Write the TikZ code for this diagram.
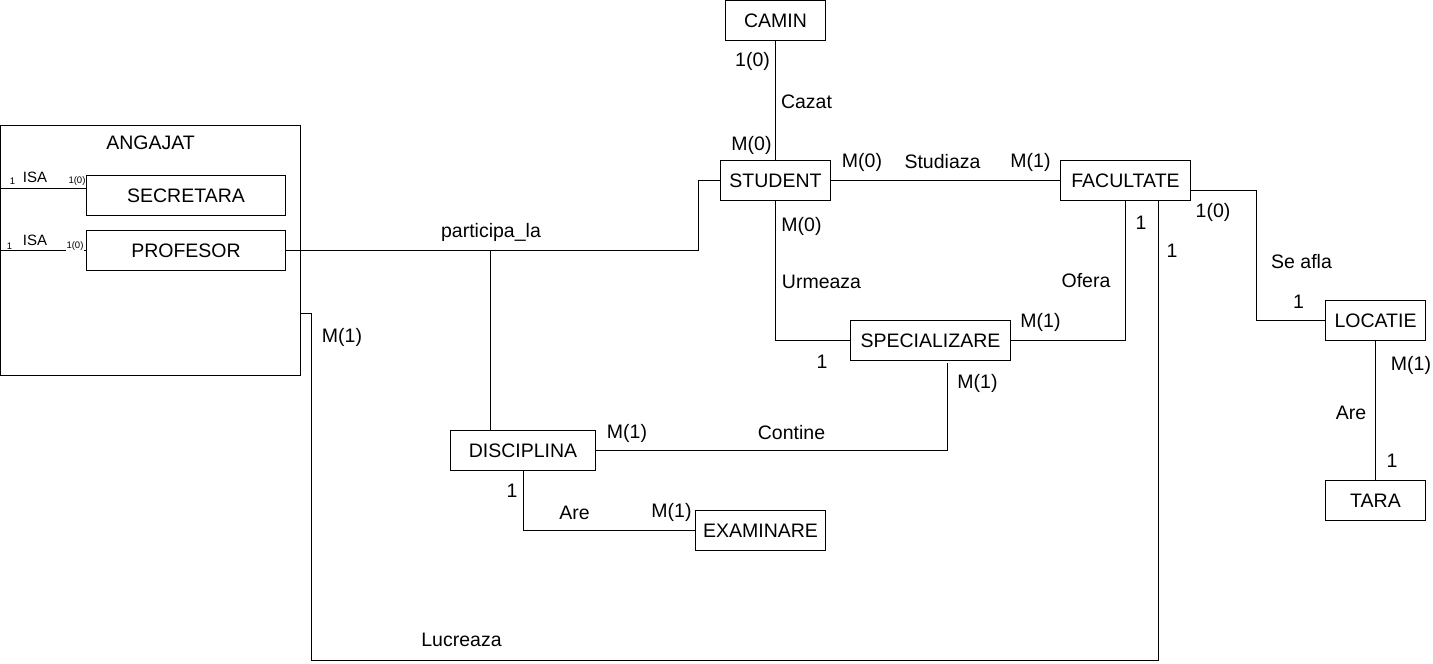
\documentclass[tikz,border=0pt]{standalone}
\usepackage{fontspec}
\setmainfont{Liberation Sans}
\begin{document}
\begin{tikzpicture}[x=1pt,y=-1pt,
  every node/.style={font=\fontsize{19.5}{21}\selectfont, text=black},
  ent/.style={draw, line width=1pt, rectangle, minimum height=40pt, inner sep=0pt},
  lbl/.style={inner sep=0pt},
  tiny/.style={inner sep=0.6pt, fill=white, font=\fontsize{9.5}{10}\selectfont},
  isalbl/.style={inner sep=0pt, font=\fontsize{15}{16}\selectfont},
  conn/.style={draw, line width=1pt}
]
\useasboundingbox (0,0) rectangle (1433,664);

% entities
\node[ent, minimum width=300pt, minimum height=250pt,
  label={[anchor=north, yshift=-7pt]north:ANGAJAT}] (angajat) at (150.5,250.5) {};
\node[ent, minimum width=199pt] (sec) at (186,195.5) {SECRETARA};
\node[ent, minimum width=199pt] (prof) at (186,250.5) {PROFESOR};
\node[ent, minimum width=100pt] (camin) at (775.5,20.5) {CAMIN};
\node[ent, minimum width=110pt] (student) at (775.5,180.5) {STUDENT};
\node[ent, minimum width=130pt] (fac) at (1125.5,180.5) {FACULTATE};
\node[ent, minimum width=160pt] (spec) at (930.5,340.5) {SPECIALIZARE};
\node[ent, minimum width=100pt] (loc) at (1375.5,320.5) {LOCATIE};
\node[ent, minimum width=100pt] (tara) at (1375.5,500.5) {TARA};
\node[ent, minimum width=145pt] (disc) at (523,450.5) {DISCIPLINA};
\node[ent, minimum width=130pt] (exam) at (760.5,530.5) {EXAMINARE};

% ISA connectors
\coordinate (s0) at (0,188.5);
\coordinate (p0) at (0,250.5);
\draw[conn] (s0) -- (sec.west |- s0);
\draw[conn] (p0) -- (prof.west);
\node[tiny] at (12.5,181.5) {1};
\node[isalbl] at (35,177) {ISA};
\node[tiny] at (77,181.5) {1(0)};
\node[tiny] at (9.5,246) {1};
\node[isalbl] at (35,240) {ISA};
\node[tiny] at (75,246) {1(0)};

% participa_la
\coordinate (pb) at (698.5,250.5);
\coordinate (pj) at (490.5,250.5);
\draw[conn] (prof.east) -- (pb) |- (student.west);
\draw[conn] (pj) -- (pj |- disc.north);
\node[lbl] at (491,232) {participa\_la};

% Lucreaza
\draw[conn] ([yshift=-63pt]angajat.east) -- ++(10,0) -- ++(0,347) -| ([xshift=33pt]fac.south);
\node[lbl] at (342,337) {M(1)};
\node[lbl] at (461.5,640) {Lucreaza};
\node[lbl] at (1172,250.5) {1};

% Cazat
\draw[conn] (camin.south) -- (student.north);
\node[lbl] at (752.5,61.5) {1(0)};
\node[lbl] at (806.5,102) {Cazat};
\node[lbl] at (751.5,145.5) {M(0)};

% Studiaza
\draw[conn] (student.east) -- (fac.west);
\node[lbl] at (862,162) {M(0)};
\node[lbl] at (942.5,162) {Studiaza};
\node[lbl] at (1030.5,162) {M(1)};

% Urmeaza
\draw[conn] (student.south) |- (spec.west);
\node[lbl] at (801.5,226) {M(0)};
\node[lbl] at (821.5,282) {Urmeaza};
\node[lbl] at (822,362) {1};

% Ofera
\draw[conn] (fac.south) |- (spec.east);
\node[lbl] at (1141,223) {1};
\node[lbl] at (1086,280.5) {Ofera};
\node[lbl] at (1040.5,322) {M(1)};

% Se afla
\draw[conn] ([yshift=-10pt]fac.east) -- ++(65,0) |- (loc.west);
\node[lbl] at (1213,212.5) {1(0)};
\node[lbl] at (1301.5,261.5) {Se afla};
\node[lbl] at (1298.5,301.5) {1};

% Are (LOCATIE-TARA)
\draw[conn] (loc.south) -- (tara.north);
\node[lbl] at (1411,365) {M(1)};
\node[lbl] at (1351,413) {Are};
\node[lbl] at (1392,461) {1};

% Contine
\draw[conn] ([xshift=16.5pt,yshift=-2pt]spec.south) |- (disc.east);
\node[lbl] at (977.5,383) {M(1)};
\node[lbl] at (791.5,433) {Contine};
\node[lbl] at (627,433) {M(1)};

% Are (DISCIPLINA-EXAMINARE)
\draw[conn] (disc.south) |- (exam.west);
\node[lbl] at (512,490.5) {1};
\node[lbl] at (574.5,512.5) {Are};
\node[lbl] at (671.5,512.5) {M(1)};
\end{tikzpicture}
\end{document}
